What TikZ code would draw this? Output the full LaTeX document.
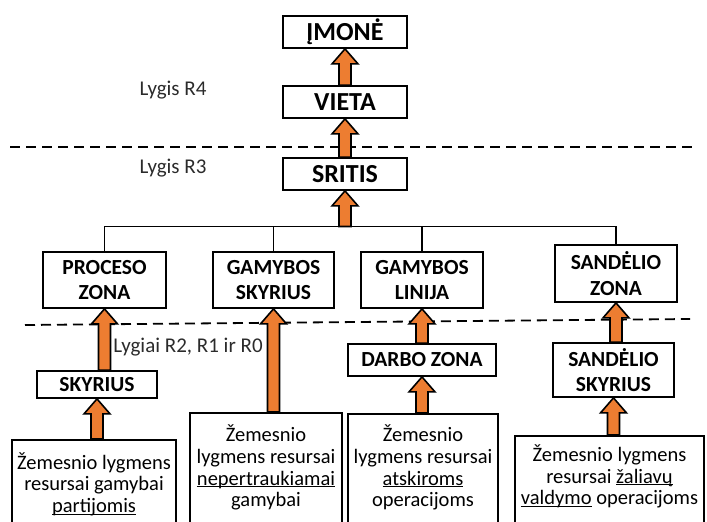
\documentclass[tikz,border=0pt]{standalone}
\usepackage{fontspec}
\setmainfont{Carlito}
\usetikzlibrary{calc}
\definecolor{arrorange}{HTML}{ED7D31}
\definecolor{labelgray}{HTML}{2B2B2B}
\tikzset{
  box/.style={draw=black, line width=1.8pt, fill=white, inner sep=0pt, align=center},
  topbox/.style={box, minimum width=124pt, minimum height=32pt, font=\fontsize{26}{30}\selectfont\bfseries},
  midbox/.style={box, font=\fontsize{21.5}{25.6}\selectfont\bfseries},
  basebox/.style={draw=black, line width=1.8pt, fill=white, inner sep=0pt, anchor=north},
  basetext/.style={align=center, inner sep=0pt, font=\fontsize{20.5}{21.8}\selectfont},
  levellabel/.style={text=labelgray, inner sep=0pt, font=\fontsize{21}{24}\selectfont},
  levelline/.style={line width=1.8pt, dash pattern=on 10pt off 6pt},
  busline/.style={line width=1.6pt},
  blockarrow/.style={draw=black, line width=1.6pt, fill=arrorange, line join=miter},
}
% upward block arrow from node anchor #1 to node anchor #2
\newcommand\blockarr[2]{%
  \path[blockarrow] let \p1=(#1), \p2=(#2) in
    (\x2-6pt,\y1) -- (\x2-6pt,\y2-15pt) -- (\x2-13pt,\y2-15pt) -- (\x2,\y2)
    -- (\x2+13pt,\y2-15pt) -- (\x2+6pt,\y2-15pt) -- (\x2+6pt,\y1) -- cycle;}
\newcommand\ulword[1]{\underline{\smash{#1}}}
\begin{document}
\begin{tikzpicture}[x=1pt,y=-1pt]
\useasboundingbox (0,0) rectangle (707,522);
\clip (0,0) rectangle (707,522);

% level separators
\draw[levelline] (10,147) -- (693,147);
\draw[levelline] (25,325) -- (690,319);

% level labels
\node[levellabel] (r4) at (173,90) {Lygis R4};
\node[levellabel] (r3) at (173,168) {Lygis R3};
\node[levellabel] (r210) at (188,347) {Lygiai R2, R1 ir R0};

% upper chain
\node[topbox] (imone) at (345,32) {ĮMONĖ};
\node[topbox] (vieta) at (345,102) {VIETA};
\node[topbox] (sritis) at (345,174) {SRITIS};

% zones
\node[midbox, minimum width=123pt, minimum height=56pt] (proceso) at (104.5,280) {PROCESO\\ZONA};
\node[midbox, minimum width=121pt, minimum height=56pt] (gskyrius) at (273.5,280) {GAMYBOS\\SKYRIUS};
\node[midbox, minimum width=122pt, minimum height=56pt] (glinija) at (422,280) {GAMYBOS\\LINIJA};
\node[midbox, minimum width=122pt, minimum height=57pt] (szona) at (616,273.5) {SANDĖLIO\\ZONA};

% lower units
\node[midbox, minimum width=120pt, minimum height=27pt] (skyrius) at (97,384.5) {SKYRIUS};
\node[midbox, minimum width=148pt, minimum height=32pt] (darbo) at (422,360) {DARBO ZONA};
\node[midbox, minimum width=121pt, minimum height=54pt] (sskyrius) at (613.5,370) {SANDĖLIO\\SKYRIUS};

% resource boxes (run past the lower edge)
\node[basebox, minimum width=164pt, minimum height=100pt] (b1) at (94,439) {};
\node[basebox, minimum width=152pt, minimum height=125pt] (b2) at (266,412) {};
\node[basebox, minimum width=150pt, minimum height=125pt] (b3) at (423,413) {};
\node[basebox, minimum width=189pt, minimum height=100pt] (b4) at (609.5,435) {};
\node[basetext] (t1) at (94,483.5) {Žemesnio lygmens\\resursai gamybai\\\ulword{partijomis}};
\node[basetext] (t2) at (266,467.5) {Žemesnio\\lygmens resursai\\\ulword{nepertraukiamai}\\gamybai};
\node[basetext] (t3) at (423,467.5) {Žemesnio\\lygmens resursai\\\ulword{atskiroms}\\operacijoms};
\node[basetext] (t4) at (609.5,476.5) {Žemesnio lygmens\\resursai \ulword{žaliavų}\\\ulword{valdymo} operacijoms};

% bus joining the zones to SRITIS
\coordinate (bus) at (345,226.5);
\draw[busline] (proceso.north) -- (proceso.north |- bus) -- (szona.north |- bus) -- (szona.north);
\draw[busline] (gskyrius.north) -- (gskyrius.north |- bus);
\draw[busline] (glinija.north) -- (glinija.north |- bus);

% block arrows
\blockarr{vieta.north}{imone.south}
\blockarr{sritis.north}{vieta.south}
\blockarr{bus}{sritis.south}
\blockarr{skyrius.north}{proceso.south}
\blockarr{b2.north}{gskyrius.south}
\blockarr{darbo.north}{glinija.south}
\blockarr{sskyrius.north}{szona.south}
\blockarr{b1.north}{skyrius.south}
\blockarr{b3.north}{darbo.south}
\blockarr{b4.north}{sskyrius.south}
\end{tikzpicture}
\end{document}
